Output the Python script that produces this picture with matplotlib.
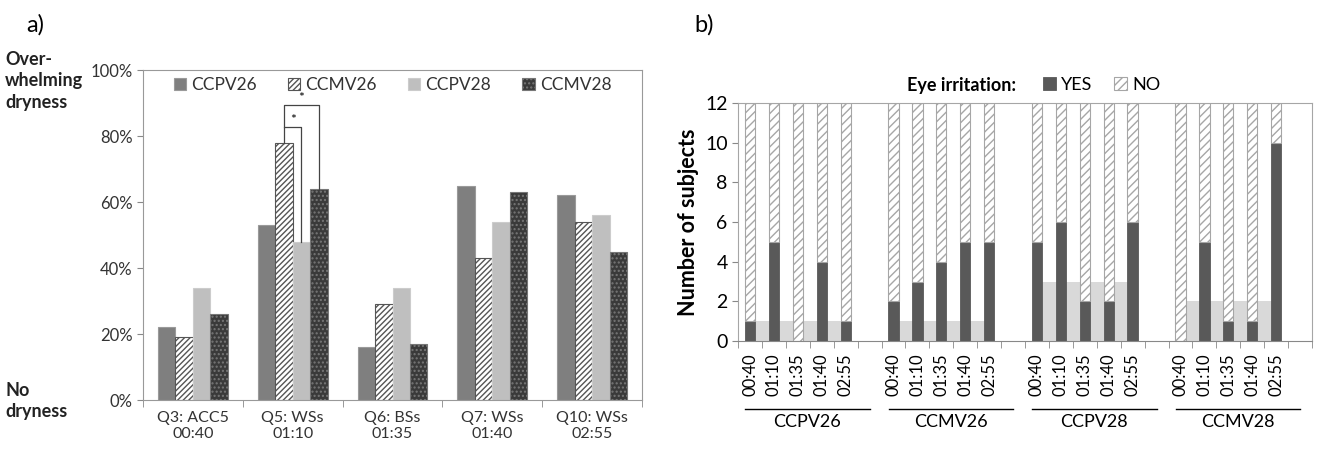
import numpy as np
import matplotlib.pyplot as plt
import matplotlib as mpl

plt.rcParams['font.family'] = ['Lato', 'DejaVu Sans']
mpl.rcParams['hatch.linewidth'] = 1.0

# panel a data (% of subjects)
questions = ['Q3: ACC5\n00:40', 'Q5: WSs\n01:10', 'Q6: BSs\n01:35',
             'Q7: WSs\n01:40', 'Q10: WSs\n02:55']
series_a = ['CCPV26', 'CCMV26', 'CCPV28', 'CCMV28']
ccpv26 = [22, 53, 16, 65, 62]
ccmv26 = [19, 78, 29, 43, 54]
ccpv28 = [34, 48, 34, 54, 56]
ccmv28 = [26, 64, 17, 63, 45]

# panel b data (number of subjects with eye irritation)
conditions = ['CCPV26', 'CCMV26', 'CCPV28', 'CCMV28']
times = ['00:40', '01:10', '01:35', '01:40', '02:55']
yes_counts = [[1, 5, 0, 4, 1],
              [2, 3, 4, 5, 5],
              [5, 6, 2, 2, 6],
              [0, 5, 1, 1, 10]]
baseline = [1, 1, 3, 2]
n_subj = 12

fig = plt.figure(figsize=(13.17, 4.57), dpi=100)

# ---------------- panel a
ax = fig.add_axes([0.1086, 0.1247, 0.3789, 0.7221])
x = np.arange(len(questions))
w = 0.175
styles = [dict(color='#7f7f7f', edgecolor='#9a9a9a'),
          dict(color='white', edgecolor='#555555', hatch='//////'),
          dict(color='#bfbfbf', edgecolor='#cccccc'),
          dict(color='#3a3a3a', edgecolor='#777777', hatch='....')]
for k, (name, vals) in enumerate(zip(series_a, [ccpv26, ccmv26, ccpv28, ccmv28])):
    ax.bar(x + (k - 1.5) * w, vals, w, label=name, linewidth=0.8, **styles[k])

# significance brackets (Q5)
xm26 = x[1] - 0.5 * w
xp28 = x[1] + 0.5 * w
xm28 = x[1] + 1.5 * w
ax.plot([xm26, xm26, xp28, xp28], [ccmv26[1], 82.7, 82.7, ccpv28[1]],
        color='#444444', lw=0.9)
ax.plot([xm26, xm26, xm28, xm28], [82.7, 89.4, 89.4, ccmv28[1]],
        color='#444444', lw=0.9)
ax.text((xm26 + xp28) / 2, 82.9, '*', ha='center', va='bottom', fontsize=10)
ax.text((xm26 + xm28) / 2, 89.6, '*', ha='center', va='bottom', fontsize=10,
        zorder=10)

ax.set_xlim(-0.5, 4.5)
ax.set_ylim(0, 100)
ax.set_yticks(range(0, 101, 20))
ax.set_yticklabels(['%d%%' % v for v in range(0, 101, 20)], fontsize=12, color='#333333')
ax.set_xticks(x)
ax.set_xticklabels(questions, fontsize=11.5, color='#333333')
ax.set_xticks(np.arange(-0.5, 5, 1), minor=True)
ax.tick_params(axis='x', which='major', length=0, pad=8)
ax.tick_params(axis='x', which='minor', length=5, color='#888888', direction='out')
ax.tick_params(axis='y', length=4, color='#888888')
for s in ax.spines.values():
    s.set_color('#999999')
    s.set_linewidth(0.8)
ax.legend(loc='center', ncol=4, frameon=False, fontsize=12.5,
          handlelength=0.7, handleheight=0.7, columnspacing=1.8,
          handletextpad=0.3, bbox_to_anchor=(0.5, 0.955), labelcolor='#333333',
          borderaxespad=0.0, borderpad=0.0)

fig.text(0.02, 0.97, 'a)', fontsize=17, va='top')
fig.text(0.004, 0.888, 'Over-\nwhelming\ndryness', fontsize=13, fontweight='bold',
         va='top', linespacing=1.3, color='#222222')
fig.text(0.004, 0.165, 'No\ndryness', fontsize=13, fontweight='bold',
         va='top', linespacing=1.3, color='#222222')

# ---------------- panel b
bx = fig.add_axes([0.5604, 0.2538, 0.4358, 0.5208])
wb = 0.43
for g, cond in enumerate(conditions):
    pos = g * 6 + np.arange(len(times))
    bx.fill_between([pos[0], pos[-1]], baseline[g], 0, color='#d9d9d9', lw=0, zorder=1)
    yes = np.array(yes_counts[g])
    no = n_subj - yes
    bx.bar(pos, yes, wb, color='#595959', edgecolor='#595959', lw=0.6,
           zorder=2, label='YES' if g == 0 else None)
    bx.bar(pos, no, wb, bottom=yes, color='white', edgecolor='#a6a6a6',
           hatch='////', lw=0.8, zorder=2, label='NO' if g == 0 else None)

slots = np.arange(24)
tick_labels = []
for g in range(4):
    tick_labels += times + ['']
bx.set_xlim(-0.5, 23.5)
bx.set_ylim(0, 12)
bx.set_yticks(range(0, 13, 2))
bx.tick_params(axis='y', labelsize=14, length=4, color='#888888')
bx.set_xticks(slots)
bx.set_xticklabels(tick_labels, rotation=90, fontsize=12)
bx.set_xticks(np.arange(-0.5, 24, 1), minor=True)
bx.tick_params(axis='x', which='major', length=0, pad=9)
bx.tick_params(axis='x', which='minor', length=5, color='#888888')
for s in bx.spines.values():
    s.set_color('#a6a6a6')
    s.set_linewidth(0.8)
bx.spines['bottom'].set_color('#888888')
bx.set_ylabel('Number of subjects', fontsize=15.5, fontweight='bold', labelpad=4)

trans = bx.get_xaxis_transform()
for g, cond in enumerate(conditions):
    x0 = g * 6 - 0.2
    x1 = g * 6 + 5.0
    bx.plot([x0, x1], [-0.285, -0.285], color='black', lw=1.0,
            transform=trans, clip_on=False)
    bx.text((x0 + x1) / 2, -0.305, cond, transform=trans, ha='center',
            va='top', fontsize=13)

bx.legend(loc='center left', ncol=2, frameon=False, fontsize=13,
          handlelength=0.7, handleheight=0.7, handletextpad=0.3,
          columnspacing=1.2, bbox_to_anchor=(0.792, 0.814),
          bbox_transform=fig.transFigure, borderaxespad=0.0, borderpad=0.0)
fig.text(0.689, 0.814, 'Eye irritation:', fontsize=13, fontweight='bold',
         va='center')

fig.text(0.527, 0.97, 'b)', fontsize=17, va='top')

fig.savefig('out.png', dpi=100)
